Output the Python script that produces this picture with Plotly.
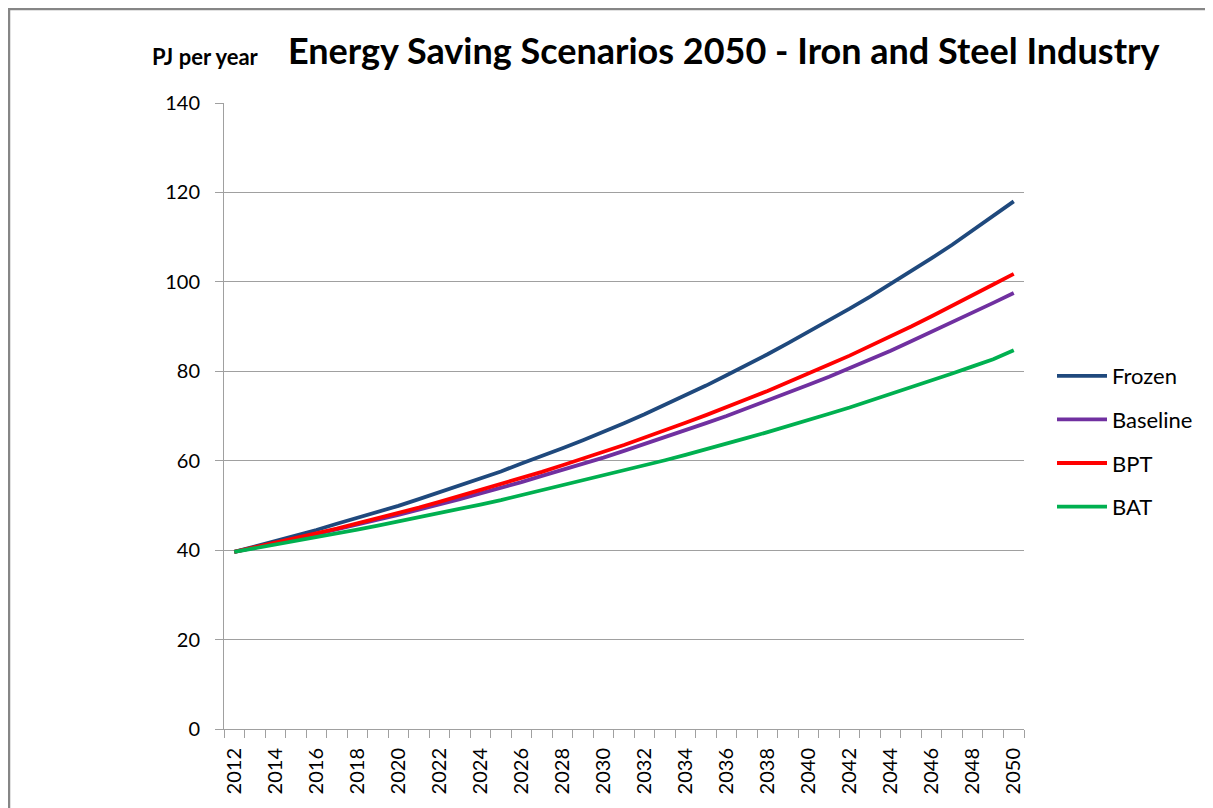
import plotly.graph_objects as go

years = list(range(2012, 2051))

frozen = [39.6, 40.8, 42.0, 43.3, 44.5, 45.9, 47.2, 48.5, 49.9, 51.4,
          52.9, 54.4, 56.0, 57.6, 59.4, 61.0, 62.8, 64.6, 66.4, 68.4,
          70.4, 72.5, 74.6, 76.8, 79.1, 81.4, 83.8, 86.3, 88.8, 91.4,
          94.0, 96.7, 99.5, 102.3, 105.3, 108.3, 111.5, 114.7, 118.0]

baseline = [39.6, 40.5, 41.5, 42.5, 43.6, 44.6, 45.7, 46.8, 47.9, 49.0,
            50.2, 51.4, 52.7, 53.9, 55.2, 56.6, 57.9, 59.3, 60.7, 62.2,
            63.7, 65.2, 66.8, 68.4, 70.0, 71.7, 73.4, 75.2, 77.0, 78.8,
            80.7, 82.7, 84.6, 86.7, 88.8, 90.9, 93.1, 95.3, 97.5]

bpt = [39.6, 40.6, 41.6, 42.7, 43.7, 44.8, 46.0, 47.1, 48.3, 49.5,
       50.8, 52.1, 53.4, 54.7, 56.1, 57.5, 59.0, 60.4, 62.0, 63.5,
       65.1, 66.8, 68.5, 70.2, 71.9, 73.8, 75.6, 77.5, 79.5, 81.5,
       83.5, 85.6, 87.8, 90.0, 92.3, 94.6, 97.0, 99.4, 101.8]

bat = [39.6, 40.4, 41.2, 42.0, 42.9, 43.7, 44.6, 45.5, 46.4, 47.3,
       48.3, 49.2, 50.2, 51.2, 52.3, 53.3, 54.4, 55.5, 56.6, 57.7,
       58.9, 60.1, 61.3, 62.5, 63.8, 65.1, 66.4, 67.7, 69.1, 70.5,
       71.9, 73.4, 74.8, 76.4, 77.9, 79.5, 81.1, 82.7, 84.7]

series_names = ["Frozen", "Baseline", "BPT", "BAT"]
series_values = [frozen, baseline, bpt, bat]
series_colors = ["#1F497D", "#7030A0", "#FF0000", "#00B050"]

FONT = "Lato"

# page body has an 8px margin: figure is 1205x800 placed at (8, 8)
L, R, T, B = 216, 189, 95, 79
W, H = 1205, 800
PW, PH = W - L - R, H - T - B


def px(xfig):
    return (xfig - L) / PW


def py(yfig):
    return (H - B - yfig) / PH


fig = go.Figure()
for i, (name, vals, col) in enumerate(zip(series_names, series_values, series_colors)):
    fig.add_trace(go.Scatter(
        x=years, y=vals, name=name, mode="lines",
        line=dict(color=col, width=3.8),
        legendgroup=f"g{i}",
    ))

fig.update_layout(
    width=W, height=H,
    margin=dict(l=L, r=R, t=T, b=B),
    paper_bgcolor="white", plot_bgcolor="white",
    font=dict(family=FONT, color="#000000"),
    showlegend=True,
    legend=dict(
        x=px(1044), y=py(347), xanchor="left", yanchor="top",
        font=dict(family=FONT, size=22, color="#000000"),
        tracegroupgap=12, traceorder="grouped", itemwidth=50,
        bgcolor="rgba(0,0,0,0)", borderwidth=0,
    ),
    xaxis=dict(
        range=[2011.5, 2050.5],
        tickmode="linear", tick0=2012, dtick=2,
        tickangle=-90,
        tickfont=dict(family=FONT, size=20, color="#000000"),
        ticks="", ticklabelstandoff=10,
        showgrid=False, zeroline=False,
        showline=True, linecolor="#A0A0A0", linewidth=1,
        minor=dict(ticks="outside", tick0=2011.5, dtick=1, ticklen=8,
                   tickcolor="#A0A0A0", tickwidth=1, showgrid=False),
    ),
    yaxis=dict(
        range=[0, 140], tickmode="linear", tick0=0, dtick=20,
        tickfont=dict(family=FONT, size=20, color="#000000"),
        ticks="outside", ticklen=8, tickcolor="#A0A0A0", tickwidth=1,
        ticklabelstandoff=11,
        showgrid=True, gridcolor="#A0A0A0", gridwidth=1,
        zeroline=False,
        showline=True, linecolor="#A0A0A0", linewidth=1,
    ),
    shapes=[dict(
        type="rect", xref="paper", yref="paper",
        x0=px(1), x1=1.4,
        y0=-0.3, y1=py(1),
        line=dict(color="#868686", width=2.5),
        fillcolor="rgba(0,0,0,0)", layer="below",
    )],
    annotations=[
        dict(
            text="<b>Energy Saving Scenarios 2050 - Iron and Steel Industry</b>",
            xref="paper", yref="paper",
            x=px(278), y=py(42),
            xanchor="left", yanchor="middle", showarrow=False,
            font=dict(family=FONT, size=36, color="#000000"),
        ),
        dict(
            text="<b>PJ per year</b>",
            xref="paper", yref="paper",
            x=px(142), y=py(48),
            xanchor="left", yanchor="middle", showarrow=False,
            font=dict(family=FONT, size=22, color="#000000"),
        ),
    ],
)

fig.write_html("out.html")
